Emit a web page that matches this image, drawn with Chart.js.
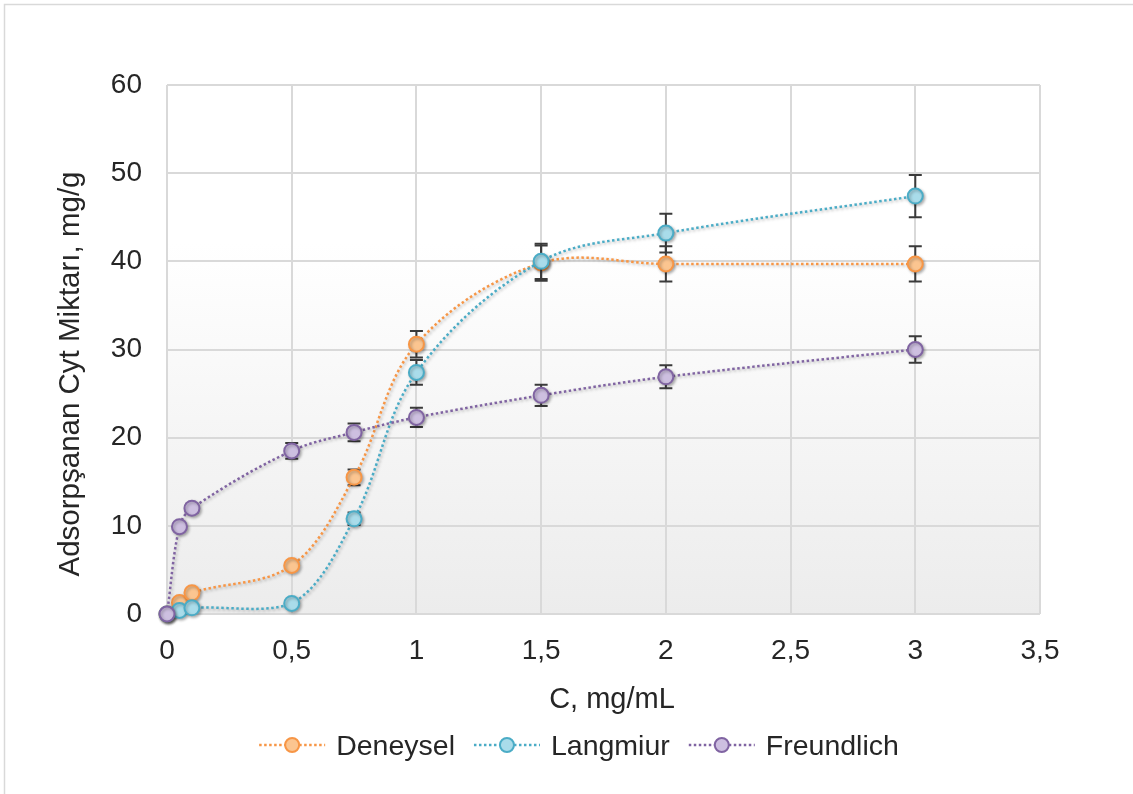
<!DOCTYPE html>
<html>
<head>
<meta charset="utf-8">
<script src="https://cdn.jsdelivr.net/npm/chart.js@4/dist/chart.umd.min.js"></script>
<style>
  html, body { margin: 0; padding: 0; background: #ffffff; }
  #wrap { position: relative; width: 1133px; height: 794px; }
</style>
</head>
<body>
<div id="wrap"><canvas id="c" width="1133" height="794"></canvas></div>
<script>
// Concentration of Cyt in solution (mg/mL)
const xValues = [0, 0.05, 0.1, 0.5, 0.75, 1, 1.5, 2, 3];

// Adsorbed amount (mg/g) with standard deviation
const deneysel    = [0, 1.3, 2.4, 5.5, 15.5, 30.6, 39.8, 39.7, 39.7];
const deneyselErr = [0, 0.2, 0.3, 0.3, 0.9, 1.5, 2.0, 2.0, 2.0];
const langmiur    = [0, 0.4, 0.7, 1.2, 10.8, 27.4, 40.0, 43.2, 47.4];
const langmiurErr = [0, 0.1, 0.1, 0.2, 0.7, 1.4, 2.0, 2.2, 2.4];
const freundlich    = [0, 9.9, 12.0, 18.5, 20.6, 22.3, 24.8, 26.9, 30.0];
const freundlichErr = [0, 0.4, 0.5, 0.9, 1.0, 1.1, 1.2, 1.3, 1.5];

const seriesNames = ['Deneysel', 'Langmiur', 'Freundlich'];
const xTickLabels = ['0', '0,5', '1', '1,5', '2', '2,5', '3', '3,5'];
const yTickLabels = ['0', '10', '20', '30', '40', '50', '60'];
const xTitle = 'C, mg/mL';
const yTitle = 'Adsorpşanan Cyt Miktarı, mg/g';

const FONT = '"Liberation Sans", Arial, sans-serif';
const TEXT = '#262626';

const styles = [
  { line: '#f79646', fill: '#fbc590' },
  { line: '#4bacc6', fill: '#a9dcea' },
  { line: '#8064a2', fill: '#cdbfe0' }
];
const seriesValues = [deneysel, langmiur, freundlich];
const seriesErrors = [deneyselErr, langmiurErr, freundlichErr];

const datasets = seriesValues.map((vals, s) => ({
  label: seriesNames[s],
  data: xValues.map((x, i) => ({ x: x, y: vals[i] })),
  errors: seriesErrors[s],
  order: 3 - s,
  clip: false,
  borderColor: styles[s].line,
  backgroundColor: styles[s].fill,
  borderWidth: 2.5,
  borderDash: [2.5, 2.5],
  tension: 0.35,
  pointRadius: 7.5,
  pointBorderWidth: 2,
  pointBorderColor: styles[s].line,
  pointBackgroundColor: styles[s].fill,
  fill: false
}));

// Plot-area gradient and outer frame
const backdrop = {
  id: 'backdrop',
  beforeDraw(chart) {
    const { ctx, chartArea: a } = chart;
    ctx.save();
    ctx.fillStyle = '#ffffff';
    ctx.fillRect(0, 0, chart.width, chart.height);
    ctx.strokeStyle = '#d9d9d9';
    ctx.lineWidth = 1.5;
    ctx.strokeRect(4.5, 4.5, chart.width + 20, chart.height + 20);
    const g = ctx.createLinearGradient(0, a.top, 0, a.bottom);
    g.addColorStop(0, '#ffffff');
    g.addColorStop(0.3, '#ffffff');
    g.addColorStop(1, '#ececec');
    ctx.fillStyle = g;
    ctx.fillRect(a.left, a.top, a.right - a.left, a.bottom - a.top);
    ctx.restore();
  }
};

// Error bars under each series' markers, plus a soft drop shadow
const errorBars = {
  id: 'errorBars',
  beforeDatasetDraw(chart, args) {
    const ds = chart.data.datasets[args.index];
    const xs = chart.scales.x, ys = chart.scales.y;
    const ctx = chart.ctx;
    ctx.save();
    ctx.strokeStyle = '#3a3a3a';
    ctx.lineWidth = 2;
    ds.data.forEach((p, i) => {
      const e = ds.errors[i];
      if (!e) return;
      const px = xs.getPixelForValue(p.x);
      const top = ys.getPixelForValue(p.y + e);
      const bot = ys.getPixelForValue(p.y - e);
      ctx.beginPath();
      ctx.moveTo(px, top); ctx.lineTo(px, bot);
      ctx.moveTo(px - 6.5, top); ctx.lineTo(px + 6.5, top);
      ctx.moveTo(px - 6.5, bot); ctx.lineTo(px + 6.5, bot);
      ctx.stroke();
    });
    ctx.restore();
    ctx.save();
    ctx.shadowColor = 'rgba(0,0,0,0.28)';
    ctx.shadowBlur = 3;
    ctx.shadowOffsetX = 1.5;
    ctx.shadowOffsetY = 1.5;
  },
  afterDatasetDraw(chart) {
    chart.ctx.restore();
  }
};

// Axis titles and the legend row
const annotations = {
  id: 'annotations',
  afterDraw(chart) {
    const ctx = chart.ctx;
    ctx.save();
    ctx.fillStyle = TEXT;
    ctx.font = '29px ' + FONT;
    ctx.textAlign = 'center';
    ctx.textBaseline = 'alphabetic';
    ctx.fillText(xTitle, 612, 708);

    ctx.save();
    ctx.translate(79, 374);
    ctx.rotate(-Math.PI / 2);
    ctx.font = '29.5px ' + FONT;
    ctx.fillText(yTitle, 0, 0);
    ctx.restore();

    // legend
    ctx.font = '28.5px ' + FONT;
    ctx.textAlign = 'left';
    const lineLen = 66, textGap = 11, itemGap = 19;
    const widths = seriesNames.map(n => ctx.measureText(n).width);
    const total = widths.reduce((s, w) => s + lineLen + textGap + w, 0) + itemGap * (seriesNames.length - 1);
    let x = 579 - total / 2;
    const y = 745;
    chart.data.datasets.forEach((ds, i) => {
      ctx.save();
      ctx.strokeStyle = ds.borderColor;
      ctx.lineWidth = 2.5;
      ctx.setLineDash([2.5, 2.5]);
      ctx.beginPath();
      ctx.moveTo(x, y); ctx.lineTo(x + lineLen, y);
      ctx.stroke();
      ctx.setLineDash([]);
      ctx.beginPath();
      ctx.arc(x + lineLen / 2, y, 7, 0, Math.PI * 2);
      ctx.fillStyle = ds.backgroundColor;
      ctx.fill();
      ctx.lineWidth = 2;
      ctx.stroke();
      ctx.restore();
      ctx.fillStyle = TEXT;
      ctx.fillText(ds.label, x + lineLen + textGap, y + 10);
      x += lineLen + textGap + widths[i] + itemGap;
    });
    ctx.restore();
  }
};

new Chart(document.getElementById('c'), {
  type: 'line',
  data: { datasets: datasets },
  plugins: [backdrop, errorBars, annotations],
  options: {
    responsive: false,
    animation: false,
    layout: { padding: { left: 0, top: 85, right: 93, bottom: 0 } },
    plugins: { legend: { display: false }, tooltip: { enabled: false } },
    scales: {
      x: {
        type: 'linear',
        min: 0, max: 3.5,
        afterFit(scale) { scale.height = 180; },
        afterBuildTicks(scale) {
          scale.ticks = xTickLabels.map((_, i) => ({ value: i * 0.5 }));
        },
        grid: { color: '#d9d9d9', lineWidth: 2, drawTicks: false },
        border: { display: false },
        ticks: {
          padding: 20,
          color: TEXT,
          font: { family: FONT, size: 28 },
          callback: (v, i) => xTickLabels[i]
        }
      },
      y: {
        min: 0, max: 60,
        afterFit(scale) { scale.width = 167; },
        afterBuildTicks(scale) {
          scale.ticks = yTickLabels.map(t => ({ value: Number(t) }));
        },
        grid: { color: '#d9d9d9', lineWidth: 2, drawTicks: false },
        border: { display: false },
        ticks: {
          padding: 25,
          color: TEXT,
          font: { family: FONT, size: 28 },
          callback: (v, i) => yTickLabels[i]
        }
      }
    }
  }
});
</script>
</body>
</html>
